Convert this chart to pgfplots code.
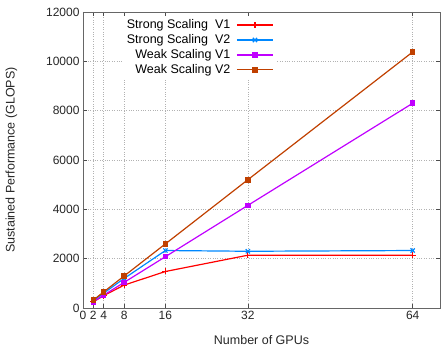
\documentclass[border=0pt]{standalone}
\usepackage{fontspec}
\setmainfont{Liberation Sans}
\usepackage{pgfplots}
\pgfplotsset{compat=1.18}
\definecolor{sv1}{RGB}{255,0,0}
\definecolor{sv2}{RGB}{0,136,255}
\definecolor{wv1}{RGB}{192,0,255}
\definecolor{wv2}{RGB}{192,64,0}
\begin{document}
\begin{tikzpicture}
\useasboundingbox (-83pt,-40pt) rectangle (359pt,308pt);
\begin{axis}[
  at={(0pt,0pt)}, anchor=south west,
  scale only axis, width=357pt, height=296pt,
  xmin=0, xmax=69.3, ymin=0, ymax=12000,
  xtick={0,2,4,8,16,32,64},
  ytick={0,2000,4000,6000,8000,10000,12000},
  scaled y ticks=false,
  /pgf/number format/assume math mode=true,
  /pgf/number format/1000 sep={},
  tick label style={font=\fontsize{12}{14}\selectfont, text=black!85},
  label style={font=\fontsize{12.5}{14}\selectfont, text=black!85},
  xticklabel style={inner xsep=0.5pt},
  xlabel={Number of GPUs},
  ylabel={Sustained Performance (GLOPS)},
  xlabel style={yshift=-9pt},
  ylabel style={yshift=22pt},
  axis line style={black!60, line width=0.8pt},
  tick style={black!70, line width=0.6pt},
  tick align=inside, major tick length=4pt,
  grid=major, grid style={black!30, dotted, line width=0.5pt},
  legend cell align=right, legend plot pos=right,
  legend image code/.code={\draw[line width=1.2pt, mark repeat=2,mark phase=2] plot coordinates {(0pt,0pt) (18pt,0pt) (36pt,0pt)};},
  legend style={draw=none, fill=white, at={(0.54,0.988)}, anchor=north east,
    font=\fontsize{12.5}{14}\selectfont, row sep=0.4pt, column sep=4pt, inner sep=2pt,
    nodes={inner ysep=2pt}},
  every axis plot/.append style={line width=1.2pt},
]
\addplot[sv1, mark=+, mark size=3pt] coordinates {(2,250) (4,500) (8,930) (16,1480) (32,2140) (64,2140)};
\addlegendentry{Strong Scaling~~V1}
\addplot[sv2, mark=x, mark size=3pt] coordinates {(2,300) (4,600) (8,1200) (16,2330) (32,2300) (64,2330)};
\addlegendentry{Strong Scaling~~V2}
\addplot[wv1, mark=square*, mark size=2.2pt] coordinates {(2,250) (4,520) (8,1040) (16,2080) (32,4160) (64,8300)};
\addlegendentry{Weak Scaling V1}
\addplot[wv2, mark=square*, mark size=2.2pt] coordinates {(2,320) (4,650) (8,1300) (16,2600) (32,5200) (64,10380)};
\addlegendentry{Weak Scaling V2}
\end{axis}
\end{tikzpicture}
\end{document}
